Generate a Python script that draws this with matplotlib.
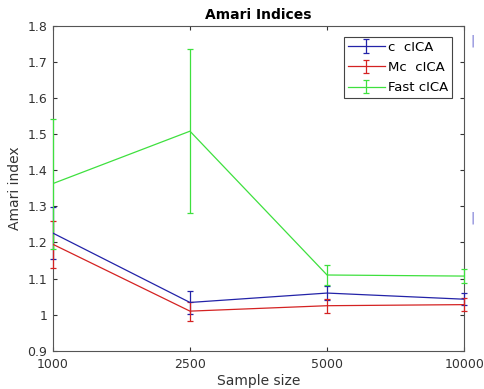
import numpy as np
import matplotlib.pyplot as plt

# sample sizes (categorical, equally spaced)
SAMPLE_SIZES = ['1000', '2500', '5000', '10000']

c_mean = [1.226, 1.034, 1.060, 1.043]
c_err = [0.072, 0.033, 0.020, 0.017]

mc_mean = [1.195, 1.010, 1.025, 1.028]
mc_err = [0.065, 0.026, 0.019, 0.017]

fast_mean = [1.363, 1.508, 1.110, 1.107]
fast_err = [0.180, 0.227, 0.029, 0.020]

BLUE = '#2323a8'
RED = '#d42222'
GREEN = '#3ee03e'
GREY = '#333333'

fig = plt.figure(figsize=(4.85, 3.89), dpi=100)
ax = fig.add_axes([0.109, 0.098, 0.848, 0.836])

x = np.arange(len(SAMPLE_SIZES))
kw = dict(lw=0.9, elinewidth=0.9, capsize=2.5, capthick=0.9, zorder=3)
for mean, err, col, lab in [(c_mean, c_err, BLUE, 'c  cICA'),
                            (mc_mean, mc_err, RED, 'Mc  cICA'),
                            (fast_mean, fast_err, GREEN, 'Fast cICA')]:
    eb = ax.errorbar(x, mean, yerr=err, color=col, label=lab, **kw)
    # error bars sit on top of the frame, as in the original
    for art in eb.lines[1] + eb.lines[2]:
        art.set_clip_on(False)

ax.set_xlim(0, 3)
ax.set_ylim(0.9, 1.8)
ax.set_xticks(x)
ax.set_xticklabels(SAMPLE_SIZES)
ax.set_yticks(np.arange(0.9, 1.81, 0.1))
ax.set_yticklabels(['0.9', '1', '1.1', '1.2', '1.3', '1.4', '1.5', '1.6', '1.7', '1.8'])

ax.tick_params(direction='in', top=True, right=True, length=3, width=0.8,
               labelsize=9, colors=GREY, pad=4)
ax.tick_params(axis='x', pad=5)
for s in ax.spines.values():
    s.set_color('#555555')
    s.set_linewidth(0.8)
    s.set_zorder(2)

ax.set_title('Amari Indices', fontsize=10, fontweight='bold', pad=5)
ax.set_xlabel('Sample size', fontsize=10, color=GREY, labelpad=2)
ax.set_ylabel('Amari index', fontsize=10, color=GREY, labelpad=4)

leg = ax.legend(loc='upper right', bbox_to_anchor=(0.971, 0.966), fontsize=9.5,
                fancybox=False, framealpha=1, edgecolor='#444444',
                handlelength=2.8, handletextpad=0.25, borderpad=0.3,
                labelspacing=0.55, borderaxespad=0)
leg.get_frame().set_linewidth(0.8)

# stray marks from the original figure
fig.text(0.975, 0.895, '|', color='#6a6ad0', fontsize=9, ha='center', va='center')
fig.text(0.975, 0.44, '|', color='#6a6ad0', fontsize=9, ha='center', va='center')

fig.savefig('out.png', dpi=100)
